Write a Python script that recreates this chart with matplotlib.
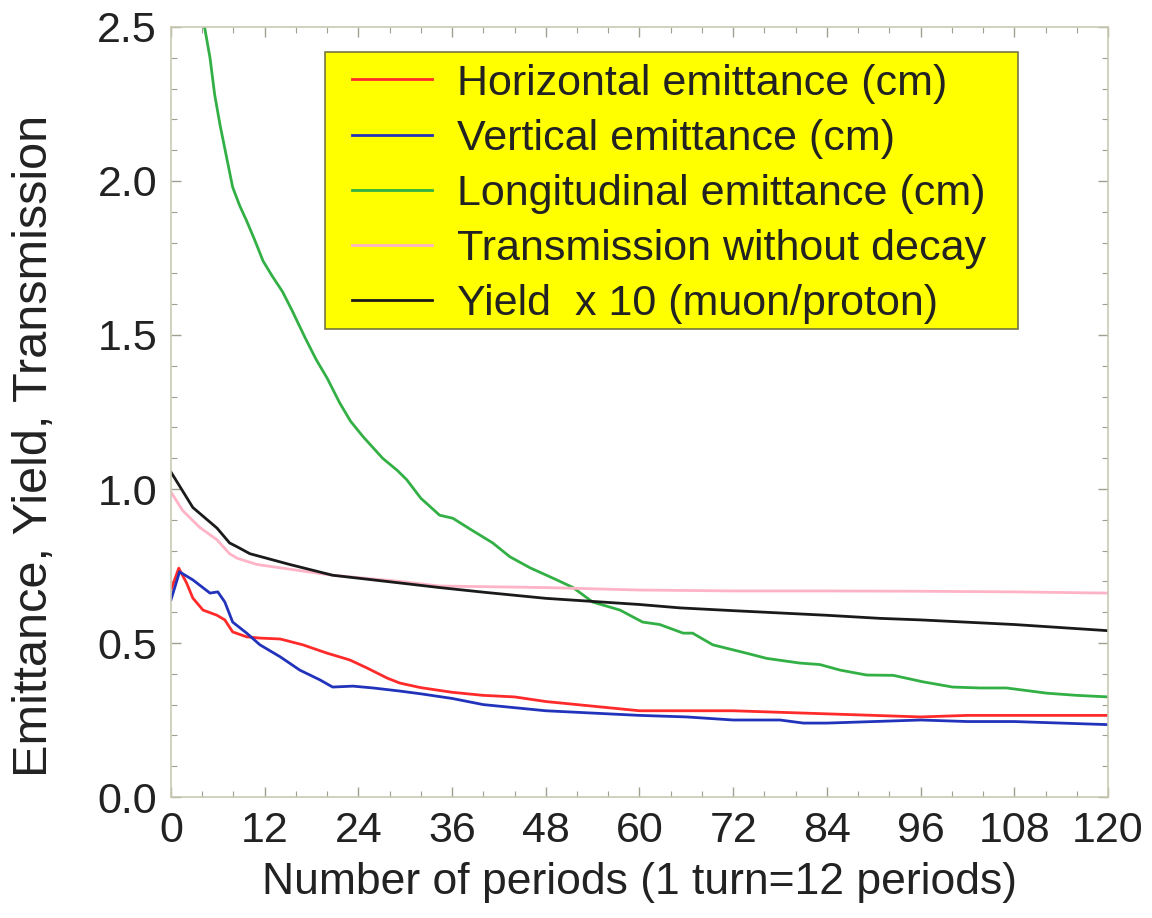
import numpy as np
import matplotlib
matplotlib.use("Agg")
import matplotlib.pyplot as plt
from matplotlib.patches import Rectangle
from matplotlib.ticker import MultipleLocator

# Values
hor_x = [0, 1, 2, 2.8, 4.1, 5.9, 6.9, 7.9, 9.7, 11.4, 14, 16.9, 20, 22.9, 25.1, 27.7, 29.3,
         32, 36, 40, 44, 48, 52, 56, 60, 66, 72, 78, 84, 90, 96, 102, 108, 114, 120]
hor_y = [0.672, 0.743, 0.695, 0.646, 0.607, 0.59, 0.575, 0.536, 0.52, 0.516, 0.513, 0.494,
         0.467, 0.445, 0.419, 0.386, 0.37, 0.355, 0.34, 0.33, 0.325, 0.31, 0.30, 0.29, 0.28,
         0.28, 0.28, 0.275, 0.27, 0.265, 0.26, 0.265, 0.265, 0.265, 0.265]

ver_x = [0, 1.1, 2.8, 5, 6, 6.9, 7.9, 9.7, 11.4, 14, 16.5, 19.1, 20.7, 23.3, 25.9, 29.3,
         32, 36, 40, 44, 48, 52, 56, 60, 66, 72, 78, 81, 84, 90, 96, 102, 108, 114, 120]
ver_y = [0.64, 0.731, 0.705, 0.662, 0.666, 0.633, 0.568, 0.532, 0.494, 0.455, 0.412, 0.38,
         0.357, 0.36, 0.354, 0.344, 0.335, 0.32, 0.30, 0.29, 0.28, 0.275, 0.27, 0.265, 0.26,
         0.25, 0.25, 0.24, 0.24, 0.245, 0.25, 0.245, 0.245, 0.24, 0.235]

lon_x = [4.3, 5.0, 5.6, 6.3, 7.1, 7.9, 8.8, 9.7, 10.7, 11.8, 13.0, 14.3, 15.5, 17.2, 18.6,
         20.0, 21.6, 23.0, 24.6, 27.1, 29.0, 30.2, 32, 34.4, 36.1, 38.3, 41.2, 43.4, 46.0,
         49.4, 51.5, 54.0, 57.5, 60.4, 62.6, 65.6, 66.8, 69.4, 73.7, 76.3, 80.5, 83.1, 85.7,
         89.1, 92.5, 96.3, 100.1, 103.6, 107.0, 112.2, 116, 120]
lon_y = [2.50, 2.40, 2.28, 2.18, 2.08, 1.98, 1.92, 1.87, 1.81, 1.74, 1.69, 1.64, 1.58, 1.49,
         1.42, 1.36, 1.28, 1.22, 1.17, 1.10, 1.06, 1.03, 0.97, 0.915, 0.905, 0.87, 0.825,
         0.78, 0.744, 0.705, 0.68, 0.633, 0.607, 0.568, 0.56, 0.532, 0.532, 0.494, 0.467,
         0.45, 0.435, 0.43, 0.412, 0.396, 0.395, 0.374, 0.357, 0.354, 0.354, 0.337, 0.33,
         0.325]

trans_x = [0, 1.5, 3.7, 5.9, 7.5, 8.5, 11, 16.5, 20.7, 29.3, 34.4, 48, 60, 72, 84, 96, 108, 120]
trans_y = [0.99, 0.93, 0.875, 0.835, 0.79, 0.775, 0.755, 0.735, 0.72, 0.70, 0.685, 0.68,
           0.672, 0.669, 0.669, 0.668, 0.666, 0.662]

yield_x = [0, 2.8, 5.9, 7.5, 8.5, 10.1, 15.2, 20.7, 29.3, 34.4, 40, 48, 54, 60, 65.2, 72, 84,
           90.8, 96, 108, 120]
yield_y = [1.055, 0.94, 0.873, 0.825, 0.812, 0.79, 0.755, 0.72, 0.695, 0.68, 0.665, 0.645,
           0.635, 0.625, 0.614, 0.605, 0.59, 0.58, 0.575, 0.56, 0.54]

labels = ["Horizontal emittance (cm)", "Vertical emittance (cm)",
          "Longitudinal emittance (cm)", "Transmission without decay",
          "Yield  x 10 (muon/proton)"]
colors = ["#ff2a2a", "#2233bb", "#33b045", "#ffb3c6", "#1a1a1a"]

plt.rcParams["font.family"] = ["Liberation Sans", "DejaVu Sans"]

fig = plt.figure(figsize=(11.52, 9.18), dpi=100)
ax = fig.add_axes([0.1484, 0.1318, 0.8134, 0.8388])

series = [(hor_x, hor_y), (ver_x, ver_y), (lon_x, lon_y), (trans_x, trans_y), (yield_x, yield_y)]
for (xs, ys), lab, col in zip(series, labels, colors):
    ax.plot(xs, ys, color=col, lw=2.0, label=lab)

ax.set_xlim(0, 120)
ax.set_ylim(0, 2.5)
ax.xaxis.set_major_locator(MultipleLocator(12))
ax.xaxis.set_minor_locator(MultipleLocator(4))
ax.yaxis.set_major_locator(MultipleLocator(0.5))
ax.yaxis.set_minor_locator(MultipleLocator(0.1))
ax.yaxis.set_major_formatter(plt.FuncFormatter(lambda v, p: f"{v:.1f}"))

frame_col = "#c9c9b4"
for s in ax.spines.values():
    s.set_color(frame_col)
    s.set_linewidth(1.2)
ax.tick_params(which="both", direction="in", top=True, right=True, color="#a0a090")
ax.tick_params(which="major", length=7, width=1, pad=10, labelsize=31, labelcolor="#222222")
ax.tick_params(which="minor", length=4, width=0.8)

ax.set_xlabel("Number of periods (1 turn=12 periods)", fontsize=32, color="#222222",
              labelpad=8)
ax.set_ylabel("Emittance, Yield, Transmission", fontsize=35, color="#222222")
ax.yaxis.set_label_coords(-0.122, 0.456)

# yellow legend panel, then the legend entries on top of it
box = Rectangle((0.1644, 0.6078), 0.7396, 0.3597, transform=ax.transAxes,
                facecolor="#ffff00", edgecolor="#777744", lw=1.2, zorder=4.5, clip_on=False)
ax.add_patch(box)
leg = ax.legend(loc="upper left", bbox_to_anchor=(0.1932, 0.9525), borderaxespad=0,
                frameon=False, fontsize=31, handlelength=1.86, handletextpad=0.58,
                labelspacing=0.35, borderpad=0)
for t in leg.get_texts():
    t.set_color("#222222")

fig.savefig("out.png", dpi=100)
